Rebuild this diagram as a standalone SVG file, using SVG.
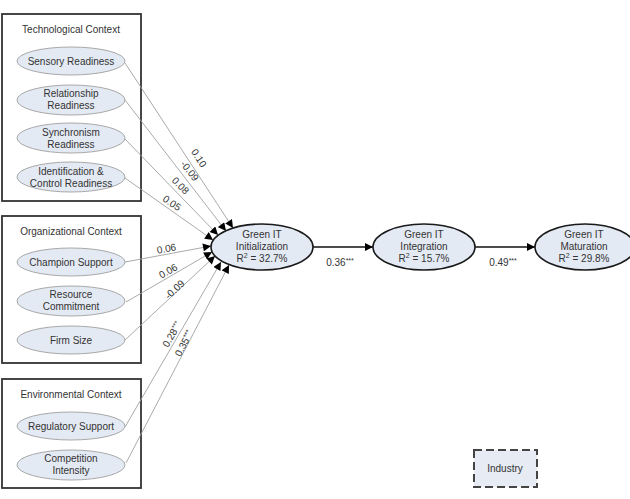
<svg xmlns="http://www.w3.org/2000/svg" width="630" height="499" viewBox="0 0 630 499">
<style>
text{font-family:"Liberation Sans",Arial,sans-serif;fill:#333;font-size:10px;text-anchor:middle}
.box{fill:#fff;stroke:#333;stroke-width:1.8}
.sm{fill:#e4eaf4;stroke:#a8a8a8;stroke-width:1}
.big{fill:#e4eaf4;stroke:#1a1a1a;stroke-width:1.6}
.ln{stroke:#a0a0a0;stroke-width:0.9;fill:none;marker-end:url(#ah)}
.main{stroke:#111;stroke-width:1.5;fill:none;marker-end:url(#ah2)}
.lab{font-size:10px}
</style>
<defs>
<marker id="ah" viewBox="0 0 10 10" refX="10" refY="5" markerWidth="9" markerHeight="8" markerUnits="userSpaceOnUse" orient="auto"><path d="M0,0 L10,5 L0,10 z" fill="#000"/></marker>
<marker id="ah2" viewBox="0 0 10 10" refX="10" refY="5" markerWidth="10" markerHeight="8" markerUnits="userSpaceOnUse" orient="auto"><path d="M0,0 L10,5 L0,10 z" fill="#000"/></marker>
</defs>
<rect width="630" height="499" fill="#fff"/>

<g id="tech-context">
<rect class="box" x="2" y="14" width="139" height="187"/>
<text x="71" y="33">Technological Context</text>
</g>
<g id="org-context">
<rect class="box" x="2" y="216" width="139" height="147"/>
<text x="71" y="235">Organizational Context</text>
</g>
<g id="env-context">
<rect class="box" x="2" y="379" width="139" height="109"/>
<text x="71" y="398">Environmental Context</text>
</g>

<g id="connectors">
<line class="ln" x1="125" y1="63" x2="233" y2="228"/>
<line class="ln" x1="125" y1="100" x2="226" y2="231"/>
<line class="ln" x1="125" y1="139" x2="218" y2="235"/>
<line class="ln" x1="125" y1="178" x2="213" y2="240"/>
<line class="ln" x1="125" y1="262" x2="211" y2="246"/>
<line class="ln" x1="126" y1="302" x2="212" y2="252"/>
<line class="ln" x1="125" y1="340" x2="215" y2="256"/>
<line class="ln" x1="125" y1="427" x2="221" y2="262"/>
<line class="ln" x1="126" y1="463" x2="229" y2="265"/>
<line class="main" x1="313" y1="247" x2="373" y2="247"/>
<line class="main" x1="475" y1="247" x2="535" y2="247"/>
<text class="lab" transform="translate(196,160) rotate(57)">0.10</text>
<text class="lab" transform="translate(187,173) rotate(52)">-0.09</text>
<text class="lab" transform="translate(178,188) rotate(46)">0.08</text>
<text class="lab" transform="translate(170,206) rotate(34)">0.05</text>
<text class="lab" transform="translate(167,252) rotate(-10)">0.06</text>
<text class="lab" transform="translate(170,274) rotate(-30)">0.06</text>
<text class="lab" transform="translate(177,292) rotate(-43)">-0.09</text>
<text class="lab" transform="translate(175,336) rotate(-60)">0.28<tspan font-size="7" dy="-3">***</tspan></text>
<text class="lab" transform="translate(187,345) rotate(-62)">0.35<tspan font-size="7" dy="-3">***</tspan></text>
<text class="lab" x="340" y="266">0.36<tspan font-size="7" dy="-3">***</tspan></text>
<text class="lab" x="503" y="266">0.49<tspan font-size="7" dy="-3">***</tspan></text>
</g>

<g id="sensory"><ellipse class="sm" cx="71" cy="61" rx="54" ry="14"/><text x="71" y="65">Sensory Readiness</text></g>
<g id="relationship"><ellipse class="sm" cx="71" cy="100" rx="54" ry="15"/><text x="71" y="97">Relationship</text><text x="71" y="109">Readiness</text></g>
<g id="synchronism"><ellipse class="sm" cx="71" cy="138" rx="54" ry="15"/><text x="71" y="136">Synchronism</text><text x="71" y="148">Readiness</text></g>
<g id="identification"><ellipse class="sm" cx="71" cy="177" rx="54" ry="15"/><text x="71" y="175">Identification &amp;</text><text x="71" y="187">Control Readiness</text></g>

<g id="champion"><ellipse class="sm" cx="71" cy="262" rx="54" ry="14"/><text x="71" y="266">Champion Support</text></g>
<g id="resource"><ellipse class="sm" cx="71" cy="301" rx="54" ry="15"/><text x="71" y="298">Resource</text><text x="71" y="310">Commitment</text></g>
<g id="firmsize"><ellipse class="sm" cx="71" cy="340" rx="54" ry="14"/><text x="71" y="344">Firm Size</text></g>

<g id="regulatory"><ellipse class="sm" cx="71" cy="426" rx="54" ry="14"/><text x="71" y="430">Regulatory Support</text></g>
<g id="competition"><ellipse class="sm" cx="71" cy="465" rx="54" ry="15"/><text x="71" y="462">Competition</text><text x="71" y="474">Intensity</text></g>

<g id="initialization"><ellipse class="big" cx="262" cy="247" rx="51" ry="23"/><text x="262" y="238">Green IT</text><text x="262" y="250">Initialization</text><text x="262" y="262">R<tspan font-size="7" dy="-4">2</tspan><tspan dy="4"> = 32.7%</tspan></text></g>
<g id="integration"><ellipse class="big" cx="424" cy="247" rx="51" ry="23"/><text x="424" y="238">Green IT</text><text x="424" y="250">Integration</text><text x="424" y="262">R<tspan font-size="7" dy="-4">2</tspan><tspan dy="4"> = 15.7%</tspan></text></g>
<g id="maturation"><ellipse class="big" cx="585" cy="247" rx="50" ry="23"/><text x="584" y="238">Green IT</text><text x="584" y="250">Maturation</text><text x="584" y="262">R<tspan font-size="7" dy="-4">2</tspan><tspan dy="4"> = 29.8%</tspan></text></g>

<g id="industry"><rect x="474" y="450" width="63" height="37" fill="#e6ebf4" stroke="#444" stroke-width="2" stroke-dasharray="8,4"/><text x="505" y="472">Industry</text></g>
</svg>
